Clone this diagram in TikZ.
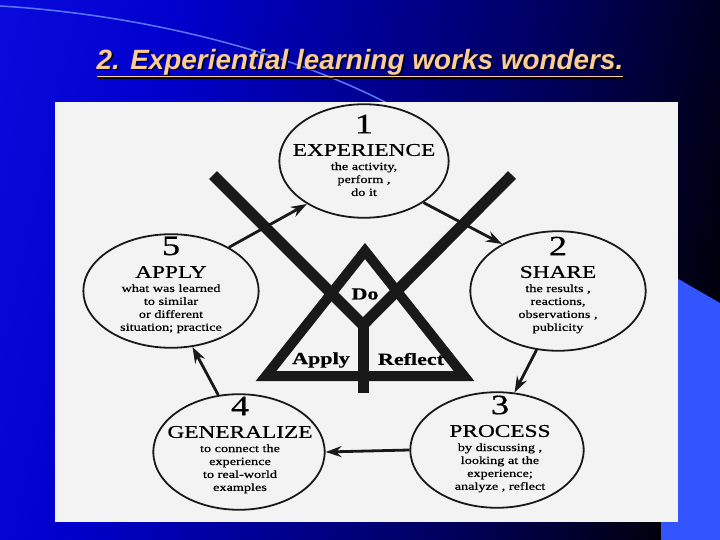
\documentclass[tikz,border=0pt]{standalone}
\usepackage{fontspec}
\setmainfont{Liberation Serif}
\newfontfamily\titlefont{Liberation Sans}
\newfontfamily\diagfont[FakeStretch=1.3,FakeBold=0.6]{Liberation Serif}
\usetikzlibrary{shapes.geometric,arrows.meta}
\definecolor{bgA}{RGB}{25,25,245}
\definecolor{bgB}{RGB}{0,0,205}
\definecolor{bgC}{RGB}{0,0,95}
\definecolor{panel}{RGB}{243,243,243}
\definecolor{peach}{RGB}{250,205,150}
\definecolor{sideblue}{RGB}{51,85,255}
\definecolor{arcblue}{RGB}{90,120,255}
\definecolor{ink}{RGB}{25,25,25}
\pgfdeclarehorizontalshading{slidebg}{100bp}{color(0bp)=(bgA); color(33bp)=(bgB); color(60bp)=(bgC); color(78bp)=(black); color(100bp)=(black)}

\begin{document}
\begin{tikzpicture}[x=1bp,y=-1bp,
oval/.style={ellipse,draw=ink,line width=1.8bp,inner sep=0pt},
num/.style={font=\diagfont\fontsize{28}{28}\selectfont,inner sep=0pt},
head/.style={font=\diagfont\fontsize{18}{18}\selectfont,inner sep=0pt},
desc/.style={font=\diagfont\fontsize{11}{13}\selectfont,align=center,inner sep=0pt},
word/.style={font=\diagfont\bfseries\fontsize{17}{17}\selectfont,inner sep=0pt},
bar/.style={ink,line width=11bp},
cyc/.style={ink,line width=2.8bp,-{Stealth[length=16bp,width=11bp]}}]
\useasboundingbox (0,0) rectangle (720,540);
\shade[shading=slidebg,shading angle=-12] (0,0) rectangle (720,540);
\draw[arcblue,line width=1.5bp] (0,6) .. controls (150,15) and (300,55) .. (400,110);
\fill[sideblue] (661,269) -- (720,303) -- (720,540) -- (661,540) -- cycle;
\fill[panel] (55,102) rectangle (678,522);

\node[black,font=\titlefont\bfseries\itshape\fontsize{28}{28}\selectfont] (shadow) at (361.5,64.5) {\underline{2. Experiential learning works wonders.}};
\node[peach,font=\titlefont\bfseries\itshape\fontsize{28}{28}\selectfont] (title) at (360,63) {\underline{2. Experiential learning works wonders.}};

\coordinate (armL) at (213,175);
\coordinate (armR) at (512,175);
\coordinate (fork) at (363,325);
\coordinate (foot) at (363,393);
\draw[bar,line join=miter] (armL) -- (fork) -- (armR);
\draw[bar] (fork) -- (foot);
\draw[bar,line width=10bp,line join=miter] (365,251) -- (266,376) -- (464,376) -- cycle;

\foreach \n/\cx/\cy/\rx/\ry/\hx/\hy/\head/\desc in {
1/364/161/85/57/364/150/EXPERIENCE/{the activity,\\perform ,\\do it},
2/558/291/88/60/558/272/SHARE/{the results ,\\reactions,\\observations ,\\publicity},
3/497/450/87/58/500/431/PROCESS/{by discussing ,\\looking at the\\experience;\\analyze , reflect},
4/239/452/86/58/240/432/GENERALIZE/{to connect the\\experience\\to real-world\\examples},
5/171/291/88/57/171/272/APPLY/{what was learned\\to similar\\or different\\situation; practice}}
{
\node[oval,minimum width=2*\rx,minimum height=2*\ry] (e\n) at (\cx,\cy) {};
\node[head] (h\n) at (\hx,\hy) {\head};
\node[num] (n\n) at ([yshift=26bp]h\n.center) {\n};
\node[desc,anchor=north] (d\n) at ([yshift=-6bp]h\n.south) {\desc};
}

\draw[cyc] (e1.-35) -- (e2.140);
\draw[cyc] (e2.-110) -- (e3.73);
\draw[cyc] (e3.180) -- (e4.0);
\draw[cyc] (e4.110) -- (e5.-69);
\draw[cyc] (e5.37) -- (e1.-143);

\node[word] (do) at (365,294) {Do};
\node[word] (apply) at (321,360) {Apply};
\node[word] (reflect) at (411,359) {Reflect};
\end{tikzpicture}
\end{document}
